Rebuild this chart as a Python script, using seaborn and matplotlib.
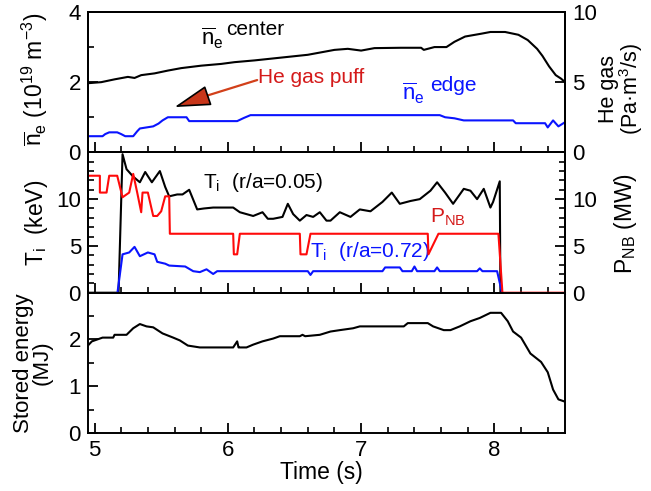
import matplotlib
matplotlib.use("Agg")
import matplotlib.pyplot as plt
import seaborn as sns
from matplotlib.ticker import MultipleLocator

# ---- line-averaged density (10^19 m^-3) ----
ne_center_t = [4.95, 5.05, 5.15, 5.25, 5.30, 5.35, 5.45, 5.55, 5.65, 5.80,
               5.95, 6.05, 6.20, 6.35, 6.45, 6.60, 6.70, 6.80, 6.90, 7.00,
               7.10, 7.30, 7.45, 7.47, 7.55, 7.64, 7.70, 7.78, 7.90, 7.97,
               8.08, 8.18, 8.25, 8.32, 8.36, 8.41, 8.46, 8.50, 8.53]
ne_center = [1.97, 2.00, 2.08, 2.15, 2.12, 2.20, 2.25, 2.33, 2.40, 2.47,
             2.52, 2.57, 2.62, 2.68, 2.72, 2.78, 2.85, 2.92, 2.95, 2.90,
             2.97, 2.98, 2.98, 2.92, 3.00, 3.00, 3.15, 3.30, 3.38, 3.43,
             3.43, 3.35, 3.20, 2.95, 2.75, 2.45, 2.20, 2.10, 2.00]

ne_edge_t = [4.95, 5.06, 5.08, 5.11, 5.17, 5.20, 5.23, 5.29, 5.32, 5.34,
             5.44, 5.48, 5.51, 5.55, 5.69, 5.71, 6.07, 6.12, 6.17, 7.59,
             7.63, 7.70, 7.77, 8.14, 8.16, 8.38, 8.40, 8.44, 8.48, 8.53]
ne_edge = [0.46, 0.46, 0.52, 0.57, 0.57, 0.52, 0.46, 0.46, 0.60, 0.68,
           0.74, 0.82, 0.91, 1.00, 1.00, 0.89, 0.89, 0.98, 1.06, 1.06,
           1.00, 0.97, 0.91, 0.91, 0.83, 0.83, 0.71, 0.91, 0.74, 0.86]

# ---- ion temperature (keV) ----
ti_core_t = [4.95, 5.18, 5.21, 5.24, 5.29, 5.34, 5.38, 5.43, 5.49, 5.53,
             5.56, 5.62, 5.66, 5.71, 5.77, 5.82, 5.89, 5.95, 6.04, 6.09,
             6.14, 6.19, 6.26, 6.30, 6.34, 6.41, 6.45, 6.49, 6.54, 6.59,
             6.64, 6.69, 6.74, 6.77, 6.84, 6.92, 6.99, 7.07, 7.16, 7.23,
             7.29, 7.37, 7.44, 7.52, 7.57, 7.63, 7.69, 7.77, 7.82, 7.87,
             7.92, 7.97, 7.99, 8.04, 8.045]
ti_core = [0, 0, 14.8, 13.2, 12.4, 11.8, 12.9, 11.8, 13.0, 11.3,
           10.3, 10.5, 10.5, 11.0, 8.9, 9.0, 9.1, 9.1, 9.1, 8.6,
           8.4, 8.2, 8.6, 7.9, 7.9, 8.1, 9.5, 8.4, 7.7, 8.3,
           8.1, 8.6, 7.7, 7.7, 8.6, 8.1, 8.9, 8.7, 9.7, 10.7,
           9.5, 9.8, 10.0, 10.9, 11.8, 10.7, 9.5, 11.1, 10.9, 10.0,
           11.1, 9.1, 9.7, 11.9, 0]

ti_edge_t = [4.97, 5.17, 5.21, 5.26, 5.30, 5.34, 5.40, 5.45, 5.47, 5.53,
             5.56, 5.68, 5.74, 5.79, 5.84, 5.89, 5.92, 6.60, 6.62, 6.64,
             7.16, 7.18, 7.29, 7.31, 7.38, 7.40, 7.42, 7.55, 7.57, 7.59,
             7.87, 7.89, 7.91, 8.02, 8.06, 8.53]
ti_edge = [-0.2, -0.2, 4.1, 4.3, 4.9, 3.9, 4.3, 4.1, 3.3, 3.1,
           2.9, 2.8, 2.3, 2.2, 2.5, 2.0, 2.3, 2.3, 1.9, 2.3,
           2.3, 2.7, 2.7, 2.3, 2.3, 2.8, 2.3, 2.3, 2.7, 2.3,
           2.3, 2.6, 2.3, 2.3, -0.2, -0.2]

# ---- NBI port-through power (MW) ----
pnb_t = [4.96, 5.04, 5.04, 5.09, 5.11, 5.17, 5.21, 5.26, 5.29, 5.32,
         5.35, 5.36, 5.40, 5.44, 5.47, 5.50, 5.53, 5.56, 5.565, 6.04,
         6.045, 6.07, 6.09, 6.54, 6.545, 6.59, 6.62, 7.50, 7.505, 7.58,
         8.03, 8.06, 8.53]
pnb = [12.5, 12.5, 10.7, 10.7, 12.5, 12.5, 10.2, 10.7, 12.7, 10.7,
       8.6, 10.7, 10.7, 8.2, 8.2, 8.7, 10.3, 10.3, 6.3, 6.3,
       4.1, 4.1, 6.3, 6.3, 4.1, 4.1, 6.3, 6.3, 4.1, 6.3,
       6.3, 0, 0]

# ---- diamagnetic stored energy (MJ) ----
wp_t = [4.95, 4.98, 5.06, 5.14, 5.15, 5.24, 5.29, 5.34, 5.39, 5.44,
        5.51, 5.59, 5.64, 5.70, 5.79, 6.04, 6.07, 6.08, 6.09, 6.14,
        6.19, 6.26, 6.34, 6.39, 6.54, 6.56, 6.58, 6.69, 6.77, 6.84,
        6.94, 6.99, 7.32, 7.35, 7.50, 7.54, 7.62, 7.67, 7.74, 7.82,
        7.89, 7.97, 8.05, 8.10, 8.14, 8.20, 8.27, 8.35, 8.40, 8.44,
        8.48, 8.53]
wp = [1.87, 1.96, 2.04, 2.04, 2.10, 2.10, 2.24, 2.33, 2.28, 2.26,
      2.13, 2.04, 1.98, 1.87, 1.83, 1.83, 1.96, 1.83, 1.83, 1.83,
      1.89, 1.96, 2.02, 2.07, 2.07, 2.10, 2.07, 2.10, 2.17, 2.20,
      2.24, 2.28, 2.28, 2.35, 2.35, 2.28, 2.20, 2.20, 2.28, 2.39,
      2.46, 2.57, 2.57, 2.39, 2.17, 2.04, 1.70, 1.52, 1.30, 0.93,
      0.72, 0.67]

time_ticks = [5, 6, 7, 8]

sns.set_theme(style="ticks")
plt.rcParams.update({
    "font.family": ["Liberation Sans", "DejaVu Sans"],
    "mathtext.fontset": "custom",
    "mathtext.rm": "Liberation Sans",
    "mathtext.it": "Liberation Sans:italic",
    "mathtext.bf": "Liberation Sans:bold",
    "axes.edgecolor": "black",
    "axes.labelcolor": "black",
    "text.color": "black",
    "xtick.color": "black",
    "ytick.color": "black",
    "axes.linewidth": 1.4,
})

BLUE = "#0a14ff"
RED = "#ff0a0a"
RED_TXT = "#d41a1a"
LW = 1.5
TICK_FS = 16
LABEL_FS = 16.5
NOTE_FS = 15

fig = plt.figure(figsize=(6.51, 4.91), dpi=100)
ax0, ax1, ax2 = fig.subplots(3, 1, sharex=True, gridspec_kw=dict(hspace=0))
fig.subplots_adjust(left=0.135, right=0.868, top=0.9756, bottom=0.118)


def line(ax, x, y, color, **kw):
    sns.lineplot(x=x, y=y, ax=ax, color=color, lw=LW, estimator=None,
                 sort=False, legend=False, **kw)


def style(ax):
    ax.tick_params(which="major", direction="in", length=7, width=1.3,
                   labelsize=TICK_FS, pad=5)
    ax.tick_params(which="minor", direction="in", length=4, width=1.2)


# top: density
line(ax0, ne_center_t, ne_center, "black")
line(ax0, ne_edge_t, ne_edge, BLUE)
ax0.set_ylim(0, 4)
ax0.set_yticks([0, 2, 4])
ax0.yaxis.set_minor_locator(MultipleLocator(1))
ax0r = ax0.twinx()
ax0r.set_ylim(0, 10)
ax0r.set_yticks([0, 5, 10])

# middle: ion temperature and NB power
line(ax1, ti_core_t, ti_core, "black")
line(ax1, ti_edge_t, ti_edge, BLUE, clip_on=False)
ax1.set_ylim(0, 15)
ax1.set_yticks([0, 5, 10])
ax1.yaxis.set_minor_locator(MultipleLocator(1))
ax1r = ax1.twinx()
line(ax1r, pnb_t, pnb, RED, clip_on=False)
ax1r.set_ylim(0, 15)
ax1r.set_yticks([0, 5, 10])
ax1r.yaxis.set_minor_locator(MultipleLocator(1))

# bottom: stored energy
line(ax2, wp_t, wp, "black")
ax2.set_ylim(0, 3)
ax2.set_yticks([0, 1, 2])
ax2.yaxis.set_minor_locator(MultipleLocator(0.5))

ax2.set_xlim(4.95, 8.53)
ax2.set_xticks(time_ticks)
ax2.xaxis.set_minor_locator(MultipleLocator(0.2))

for a in (ax0, ax1, ax2, ax0r, ax1r):
    style(a)
    a.set_xlabel("")
    a.set_ylabel("")

# axis titles (left labels anchor at their right edge, right labels at their left edge)
ax0.set_ylabel(r"$\overline{\rm n}_{\rm e}$ (10$^{19}$ m$^{-3}$)", fontsize=LABEL_FS)
ax1.set_ylabel(r"T$_{\rm i}$  (keV)", fontsize=LABEL_FS)
ax2.set_ylabel("Stored energy\n(MJ)", fontsize=16, linespacing=0.85)
ax0r.set_ylabel("He gas\n(Pa·m$^3$/s)", fontsize=15.5, linespacing=0.9)
ax1r.set_ylabel(r"P$_{\rm NB}$ (MW)", fontsize=LABEL_FS)
ax2.set_xlabel("Time (s)", fontsize=LABEL_FS)
ax0.yaxis.set_label_coords(-0.08, 0.52)
ax1.yaxis.set_label_coords(-0.08, 0.5)
ax2.yaxis.set_label_coords(-0.074, 0.5)
ax0r.yaxis.set_label_coords(1.069, 0.45)
ax1r.yaxis.set_label_coords(1.098, 0.49)
ax2.xaxis.set_label_coords(0.49, -0.2)

# curve annotations
ax0.text(5.80, 3.25, r"$\overline{\rm n}_{\rm e}$", fontsize=NOTE_FS + 1, va="center")
ax0.text(5.99, 3.49, "center", fontsize=NOTE_FS, va="center")
ax0.text(7.31, 1.68, r"$\overline{\rm n}_{\rm e}$", fontsize=NOTE_FS + 1, va="center", color=BLUE)
ax0.text(7.52, 1.91, "edge", fontsize=NOTE_FS, va="center", color=BLUE)
ax0.text(6.23, 2.14, "He gas puff", fontsize=NOTE_FS, va="center", color=RED_TXT)
ax0.annotate("", xy=(5.83, 1.60), xytext=(6.22, 2.06),
             arrowprops=dict(arrowstyle="-", color="#d2401a", lw=1.6,
                             shrinkA=0, shrinkB=0))
ax0.annotate("", xy=(5.60, 1.29), xytext=(5.84, 1.60),
             arrowprops=dict(arrowstyle="-|>,head_length=2.3,head_width=0.65",
                             fc="#c8361a", ec="black", lw=1.2,
                             shrinkA=0, shrinkB=0, mutation_scale=10))

ax1.text(5.81, 11.8, r"T$_{\rm i}$  (r/a=0.05)", fontsize=NOTE_FS, va="center")
ax1.text(7.52, 8.1, r"P$_{\rm NB}$", fontsize=NOTE_FS, va="center", color=RED_TXT)
ax1.text(6.62, 4.4, r"T$_{\rm i}$  (r/a=0.72)", fontsize=NOTE_FS, va="center", color=BLUE)

fig.savefig("out.png", dpi=100)
